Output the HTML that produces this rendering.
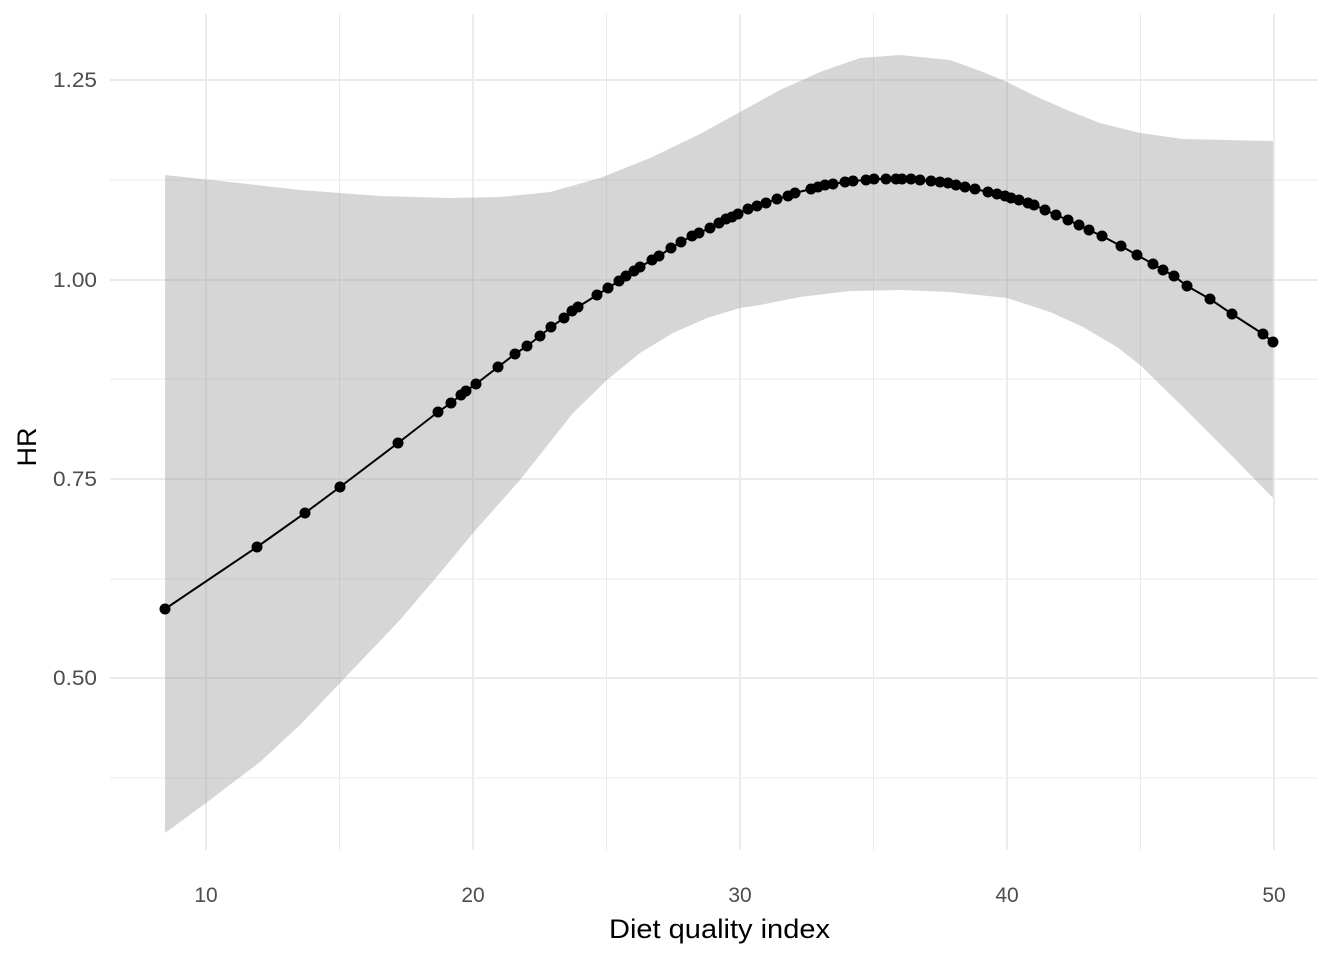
<!DOCTYPE html>
<html><head><meta charset="utf-8"><style>body{margin:0;background:#fff}svg{display:block}</style></head><body>
<svg width="1344" height="960" xmlns="http://www.w3.org/2000/svg" font-family="Liberation Sans, sans-serif">
<g stroke="#ebebeb" stroke-width="1">
<line x1="110" x2="1318" y1="180" y2="180"/><line x1="110" x2="1318" y1="379" y2="379"/><line x1="110" x2="1318" y1="579" y2="579"/><line x1="110" x2="1318" y1="778" y2="778"/>
<line y1="14" y2="850" x1="339.5" x2="339.5"/><line y1="14" y2="850" x1="606.5" x2="606.5"/><line y1="14" y2="850" x1="873.5" x2="873.5"/><line y1="14" y2="850" x1="1140.5" x2="1140.5"/>
</g>
<g stroke="#ebebeb" stroke-width="2">
<line x1="110" x2="1318" y1="80" y2="80"/><line x1="110" x2="1318" y1="280" y2="280"/><line x1="110" x2="1318" y1="479" y2="479"/><line x1="110" x2="1318" y1="678" y2="678"/>
<line y1="14" y2="850" x1="206" x2="206"/><line y1="14" y2="850" x1="473" x2="473"/><line y1="14" y2="850" x1="740" x2="740"/><line y1="14" y2="850" x1="1007" x2="1007"/><line y1="14" y2="850" x1="1274" x2="1274"/>
</g>
<path fill="#999" fill-opacity="0.4" d="M165,175 L230,182 L300,190 L380,196 L450,198 L500,197 L550,192 L600,178 L650,158 L700,134 L740,112 L780,90 L820,72 L860,58 L900,55 L950,60 L983,72 L1007,82 L1033,95 L1067,110 L1100,123 L1140,133 L1183,139 L1273,141 L1273,498 L1233,457 L1183,407 L1140,365 L1117,347 L1083,327 L1050,312 L1007,298 L950,292 L900,290 L850,291 L800,297 L760,305 L740,308 L707,318 L673,333 L640,353 L607,380 L573,413 L520,480 L473,533 L440,573 L400,620 L340,683 L300,725 L260,762 L206,803 L165,833 Z"/>
<polyline fill="none" stroke="#000" stroke-width="2" id="ln" points="165,609 257,547 305,513 340,487 398,443 438,412 451,403 461,395 466,391 476,384 498,367 515,354 527,346 540,336 551,327 564,318 572,311 578,307 597,295 608,288 619,281 626,276 634,271 640,267 652,260 659,256 671,248 681,242 692,236 699,233 710,228 719,223 726,219 732,217 738,214 748,209 757,206 766,203 777,199 788,196 795,193 811,189 818,187 825,185 833,184 845,182 853,181 866,180 874,179 886,179 896,179 902,179 911,179 920,180 931,181 940,182 948,183 956,185 965,187 975,189 988,192 997,194 1005,196 1011,198 1019,200 1028,203 1034,205 1045,210 1056,215 1068,220 1079,225 1089,230 1102,236 1121,246 1137,255 1153,264 1163,270 1174,276 1187,286 1210,299 1232,314 1263,334 1273,342"/>
<g id="pts" fill="#000"></g>
<g fill="#4d4d4d" font-size="21" text-anchor="end">
<text x="97" y="87" textLength="44" lengthAdjust="spacingAndGlyphs">1.25</text><text x="97" y="287" textLength="44" lengthAdjust="spacingAndGlyphs">1.00</text><text x="97" y="486" textLength="44" lengthAdjust="spacingAndGlyphs">0.75</text><text x="97" y="685" textLength="44" lengthAdjust="spacingAndGlyphs">0.50</text>
</g>
<g fill="#4d4d4d" font-size="21" text-anchor="middle">
<text x="206" y="902">10</text><text x="473" y="902">20</text><text x="740" y="902">30</text><text x="1007" y="902">40</text><text x="1274" y="902">50</text>
</g>
<text x="609" y="938" font-size="27" textLength="221" lengthAdjust="spacingAndGlyphs" fill="#000">Diet quality index</text>
<text x="36" y="447" font-size="27" text-anchor="middle" fill="#000" transform="rotate(-90 36 447)">HR</text>
</svg>
<script>
var p=document.getElementById('ln').getAttribute('points').trim().split(/\s+/);var g=document.getElementById('pts');
p.forEach(function(s){var a=s.split(',');var c=document.createElementNS('http://www.w3.org/2000/svg','circle');c.setAttribute('cx',a[0]);c.setAttribute('cy',a[1]);c.setAttribute('r','5.5');g.appendChild(c);});
</script>
</body></html>
